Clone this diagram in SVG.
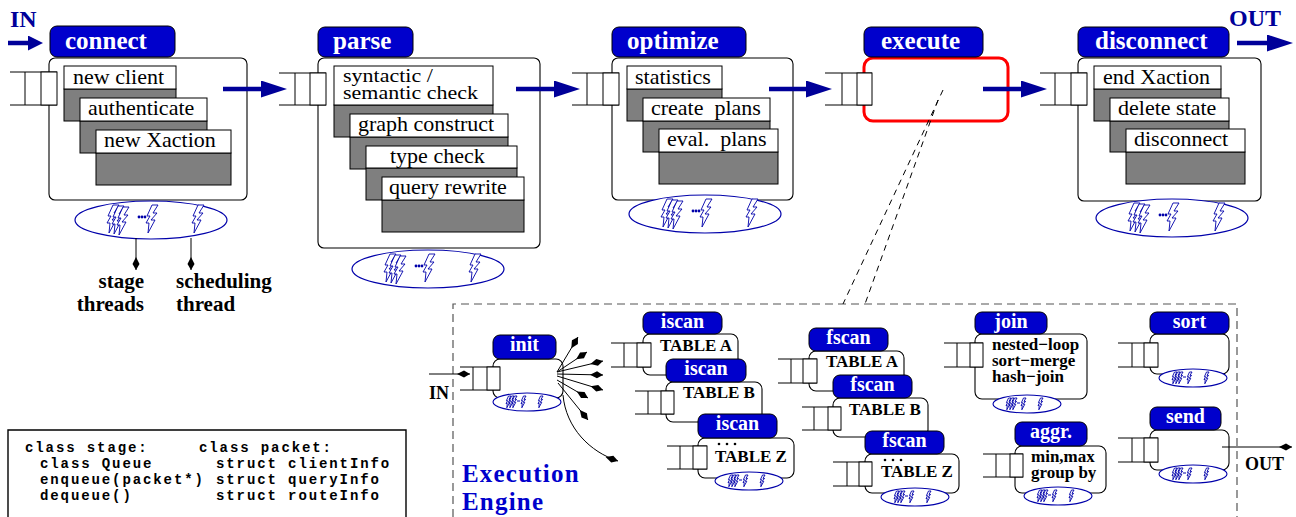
<svg xmlns="http://www.w3.org/2000/svg" xmlns:xlink="http://www.w3.org/1999/xlink" width="1296" height="517" viewBox="0 0 1296 517">
  <style>
    .body { fill: #fff; stroke: #000; stroke-width: 1.1; }
    .lblbox { fill: #0000cc; stroke: #000; stroke-width: 1; }
    .lbl { font-family: "Liberation Serif", serif; font-weight: bold; font-size: 25px; fill: #fff; }
    .elbl { font-family: "Liberation Serif", serif; font-weight: bold; font-size: 20px; fill: #fff; text-anchor: middle; }
    .task { font-family: "Liberation Serif", serif; font-size: 22px; fill: #000; }
    .etxt { font-family: "Liberation Serif", serif; font-weight: bold; font-size: 17px; fill: #000; }
    .white { fill: #fff; stroke: #000; stroke-width: 1; }
    .grey { fill: #7f7f7f; stroke: #000; stroke-width: 1; }
    .q { fill: none; stroke: #000; stroke-width: 1; }
    .qbox { fill: #fff; stroke: #000; stroke-width: 1; }
    .flow { fill: none; stroke: #000099; stroke-width: 4.5; }
    .thin { fill: none; stroke: #000; stroke-width: 1; }
    .io { font-family: "Liberation Serif", serif; font-weight: bold; font-size: 24px; fill: #000099; }
    .eio { font-family: "Liberation Serif", serif; font-weight: bold; font-size: 18px; fill: #000; }
    .note { font-family: "Liberation Serif", serif; font-weight: bold; font-size: 21px; fill: #000; }
    .code { font-family: "Liberation Mono", monospace; font-weight: bold; font-size: 14px; letter-spacing: 1.9px; fill: #000; }
    .title { font-family: "Liberation Serif", serif; font-weight: bold; font-size: 25px; letter-spacing: 1.2px; fill: #0000cc; }
    .frame { fill: none; stroke: #555; stroke-width: 1.2; stroke-dasharray: 8 5; }
    .zoomline { fill: none; stroke: #000; stroke-width: 1; stroke-dasharray: 6 5; }
    .dot { fill: #000; }
  </style>
  <defs>
    <marker id="bigHead" markerUnits="userSpaceOnUse" viewBox="0 0 26 17" markerWidth="26" markerHeight="17" refX="0" refY="8.5" orient="auto">
      <path d="M0,0 L26,8.5 L0,17 Z" fill="#000099"/>
    </marker>
    <marker id="smallHead" markerUnits="userSpaceOnUse" viewBox="0 0 15 15" markerWidth="15" markerHeight="15" refX="0" refY="7.5" orient="auto">
      <path d="M0,0 L15,7.5 L0,15 Z" fill="#000099"/>
    </marker>
    <marker id="kite" markerUnits="userSpaceOnUse" viewBox="-14 -5 15 10" markerWidth="15" markerHeight="10" refX="0" refY="0" orient="auto">
      <path d="M0,0 L-6,-3.5 L-13,0 L-6,3.5 Z" fill="#000"/>
    </marker>
    <!-- one thread glyph -->
    <path id="bolt" d="M6,0 L12,0 L7,8 L11,8 L5,15 L9,15 L2,28 L3,18 L0,18 L4,11 L1,11 Z" fill="#fff" stroke="#0000aa" stroke-width="0.9" vector-effect="non-scaling-stroke"/>
    <!-- thread pool of a stage -->
    <g id="pool">
      <ellipse cx="0" cy="0" rx="76" ry="19" fill="#fff" stroke="#0000aa" stroke-width="1.2"/>
      <use xlink:href="#bolt" x="-44" y="-15"/>
      <use xlink:href="#bolt" x="-39" y="-14"/>
      <use xlink:href="#bolt" x="-34" y="-13"/>
      <circle cx="-12" cy="-3" r="1.4" fill="#0000aa"/>
      <circle cx="-9" cy="-3" r="1.4" fill="#0000aa"/>
      <circle cx="-6" cy="-3" r="1.4" fill="#0000aa"/>
      <use xlink:href="#bolt" x="-5" y="-15"/>
      <use xlink:href="#bolt" x="41" y="-15"/>
    </g>
    <g id="poolSmall">
      <ellipse cx="0" cy="0" rx="34" ry="9" fill="#fff" stroke="#0000aa" stroke-width="1.1"/>
      <use xlink:href="#bolt" transform="translate(-21,-6) scale(0.42)"/>
      <use xlink:href="#bolt" transform="translate(-18,-6) scale(0.42)"/>
      <use xlink:href="#bolt" transform="translate(-15,-6) scale(0.42)"/>
      <line x1="-10" y1="-1" x2="-7" y2="-1" stroke="#0000aa" stroke-width="1"/>
      <use xlink:href="#bolt" transform="translate(-6,-6) scale(0.42)"/>
      <use xlink:href="#bolt" transform="translate(11,-6) scale(0.42)"/>
    </g>
    <!-- ellipsis marks above the last table -->
    <g id="dots">
      <circle class="dot" cx="0" cy="0" r="1.3"/>
      <circle class="dot" cx="8" cy="0" r="1.3"/>
      <circle class="dot" cx="16" cy="0" r="1.3"/>
    </g>
  </defs>

  <rect width="1296" height="517" fill="#fff"/>

  <!-- input / output of the pipeline -->
  <text class="io" x="10" y="27">IN</text>
  <text class="io" x="1229" y="26">OUT</text>

  <!-- stage: connect -->
  <g id="stage-connect">
    <rect class="body" x="49" y="58" width="198" height="142" rx="6"/>
    <rect class="lblbox" x="50" y="26" width="125" height="31" rx="7"/>
    <text class="lbl" x="65" y="49">connect</text>
    <rect class="grey" x="64" y="89" width="112" height="32"/>
    <rect class="white" x="64" y="66" width="112" height="23"/>
    <text class="task" x="73" y="84">new client</text>
    <rect class="grey" x="80" y="121" width="127" height="32"/>
    <rect class="white" x="80" y="98" width="127" height="23"/>
    <text class="task" x="88" y="115">authenticate</text>
    <rect class="grey" x="96" y="153" width="135" height="32"/>
    <rect class="white" x="96" y="130" width="135" height="23"/>
    <text class="task" x="104" y="147">new Xaction</text>
    <path class="q" d="M10,72 H57 M10,105 H57 M25,72 V105"/>
    <rect class="qbox" x="41" y="72" width="16" height="33"/>
    <use xlink:href="#pool" x="151" y="220"/>
  </g>

  <!-- stage: parse -->
  <g id="stage-parse">
    <rect class="body" x="318" y="58" width="222" height="190" rx="6"/>
    <rect class="lblbox" x="318" y="27" width="95" height="30" rx="7"/>
    <text class="lbl" x="333" y="49">parse</text>
    <rect class="grey" x="334" y="105" width="159" height="32"/>
    <rect class="white" x="334" y="66" width="159" height="39"/>
    <text class="task" x="343" y="82" transform="translate(343 82) scale(1 0.85) translate(-343 -82)">syntactic /</text>
    <text class="task" x="343" y="99" transform="translate(343 99) scale(1 0.85) translate(-343 -99)">semantic check</text>
    <rect class="grey" x="350" y="137" width="158" height="32"/>
    <rect class="white" x="350" y="114" width="158" height="23"/>
    <text class="task" x="358" y="131">graph construct</text>
    <rect class="grey" x="366" y="168" width="151" height="32"/>
    <rect class="white" x="366" y="146" width="151" height="22"/>
    <text class="task" x="390" y="163">type check</text>
    <rect class="grey" x="382" y="200" width="142" height="32"/>
    <rect class="white" x="382" y="177" width="142" height="23"/>
    <text class="task" x="389" y="194">query rewrite</text>
    <path class="q" d="M279,73 H326 M279,105 H326 M295,73 V105"/>
    <rect class="qbox" x="310" y="73" width="16" height="32"/>
    <use xlink:href="#pool" x="428" y="269"/>
  </g>

  <!-- stage: optimize -->
  <g id="stage-optimize">
    <rect class="body" x="612" y="58" width="181" height="142" rx="6"/>
    <rect class="lblbox" x="612" y="27" width="134" height="30" rx="7"/>
    <text class="lbl" x="627" y="49">optimize</text>
    <rect class="grey" x="627" y="89" width="95" height="32"/>
    <rect class="white" x="627" y="66" width="95" height="23"/>
    <text class="task" x="635" y="84">statistics</text>
    <rect class="grey" x="643" y="121" width="127" height="31"/>
    <rect class="white" x="643" y="98" width="127" height="23"/>
    <text class="task" x="651" y="115" xml:space="preserve">create  plans</text>
    <rect class="grey" x="659" y="152" width="119" height="32"/>
    <rect class="white" x="659" y="129" width="119" height="23"/>
    <text class="task" x="667" y="146" xml:space="preserve">eval.  plans</text>
    <path class="q" d="M572,73 H619 M572,105 H619 M587,73 V105"/>
    <rect class="qbox" x="603" y="73" width="16" height="32"/>
    <use xlink:href="#pool" x="705" y="214"/>
  </g>

  <!-- stage: execute (expanded below) -->
  <g id="stage-execute">
    <rect x="864" y="58" width="144" height="63" rx="9" fill="#fff" stroke="#ff0000" stroke-width="3"/>
    <rect class="lblbox" x="864" y="27" width="119" height="30" rx="7"/>
    <text class="lbl" x="881" y="49">execute</text>
    <path class="q" d="M825,73 H872 M825,105 H872 M842,73 V105"/>
    <rect class="qbox" x="857" y="73" width="15" height="32"/>
  </g>

  <!-- stage: disconnect -->
  <g id="stage-disconnect">
    <rect class="body" x="1078" y="58" width="183" height="143" rx="6"/>
    <rect class="lblbox" x="1078" y="27" width="151" height="30" rx="7"/>
    <text class="lbl" x="1095" y="49">disconnect</text>
    <rect class="grey" x="1094" y="89" width="127" height="32"/>
    <rect class="white" x="1094" y="66" width="127" height="23"/>
    <text class="task" x="1103" y="84">end Xaction</text>
    <rect class="grey" x="1110" y="121" width="119" height="31"/>
    <rect class="white" x="1110" y="98" width="119" height="23"/>
    <text class="task" x="1118" y="115">delete state</text>
    <rect class="grey" x="1126" y="152" width="119" height="32"/>
    <rect class="white" x="1126" y="129" width="119" height="23"/>
    <text class="task" x="1134" y="146">disconnect</text>
    <path class="q" d="M1040,73 H1087 M1040,105 H1087 M1055,73 V105"/>
    <rect class="qbox" x="1071" y="73" width="16" height="32"/>
    <use xlink:href="#pool" x="1172" y="218"/>
  </g>

  <!-- thread annotations -->
  <g id="thread-notes">
    <text class="note" x="144" y="288" text-anchor="end">stage</text>
    <text class="note" x="144" y="311" text-anchor="end">threads</text>
    <text class="note" x="176" y="288">scheduling</text>
    <text class="note" x="176" y="311">thread</text>
  </g>

  <!-- execution engine frame -->
  <path class="frame" d="M453,517 V304 H1237 V517"/>
  <text class="title" x="462" y="482">Execution</text>
  <text class="title" x="462" y="510">Engine</text>

  <!-- engine operators -->
  <g id="op-init">
    <rect class="body" x="493" y="359" width="70" height="39" rx="7"/>
    <rect class="lblbox" x="493" y="335" width="63" height="24" rx="7"/>
    <text class="elbl" x="524.5" y="351">init</text>
    <path class="q" d="M460,367 H500 M460,390 H500 M473,367 V390"/>
    <rect class="qbox" x="487" y="367" width="13" height="23"/>
    <use xlink:href="#poolSmall" x="527" y="402"/>
  </g>

  <g id="op-iscan-a">
    <rect class="body" x="643" y="334" width="95" height="41" rx="7"/>
    <rect class="lblbox" x="643" y="312" width="79" height="22" rx="7"/>
    <text class="elbl" x="682.5" y="328">iscan</text>
    <text class="etxt" x="660" y="351">TABLE A</text>
    <path class="q" d="M611,343 H651 M611,367 H651 M624,343 V367"/>
    <rect class="qbox" x="637" y="343" width="14" height="24"/>
  </g>
  <g id="op-iscan-b">
    <rect class="body" x="666" y="382" width="96" height="40" rx="7"/>
    <rect class="lblbox" x="666" y="359" width="80" height="23" rx="7"/>
    <text class="elbl" x="706" y="375">iscan</text>
    <text class="etxt" x="683" y="398">TABLE B</text>
    <path class="q" d="M635,391 H674 M635,414 H674 M648,391 V414"/>
    <rect class="qbox" x="661" y="391" width="13" height="23"/>
  </g>
  <g id="op-iscan-z">
    <rect class="body" x="698" y="438" width="96" height="40" rx="7"/>
    <rect class="lblbox" x="698" y="414" width="79" height="24" rx="7"/>
    <text class="elbl" x="737.5" y="430">iscan</text>
    <use xlink:href="#dots" x="719" y="444"/>
    <text class="etxt" x="715" y="462">TABLE Z</text>
    <path class="q" d="M667,446 H707 M667,469 H707 M680,446 V469"/>
    <rect class="qbox" x="693" y="446" width="14" height="23"/>
    <use xlink:href="#poolSmall" x="749" y="481"/>
  </g>

  <g id="op-fscan-a">
    <rect class="body" x="809" y="351" width="95" height="40" rx="7"/>
    <rect class="lblbox" x="809" y="328" width="79" height="23" rx="7"/>
    <text class="elbl" x="848.5" y="344">fscan</text>
    <text class="etxt" x="826" y="367">TABLE A</text>
    <path class="q" d="M778,359 H817 M778,383 H817 M791,359 V383"/>
    <rect class="qbox" x="803" y="359" width="14" height="24"/>
  </g>
  <g id="op-fscan-b">
    <rect class="body" x="833" y="398" width="95" height="39" rx="7"/>
    <rect class="lblbox" x="833" y="375" width="79" height="23" rx="7"/>
    <text class="elbl" x="872.5" y="391">fscan</text>
    <text class="etxt" x="849" y="415">TABLE B</text>
    <path class="q" d="M802,407 H841 M802,430 H841 M814,407 V430"/>
    <rect class="qbox" x="828" y="407" width="13" height="23"/>
  </g>
  <g id="op-fscan-z">
    <rect class="body" x="865" y="454" width="94" height="39" rx="7"/>
    <rect class="lblbox" x="865" y="431" width="79" height="23" rx="7"/>
    <text class="elbl" x="904.5" y="447">fscan</text>
    <use xlink:href="#dots" x="885" y="460"/>
    <text class="etxt" x="881" y="477">TABLE Z</text>
    <path class="q" d="M833,462 H872 M833,486 H872 M847,462 V486"/>
    <rect class="qbox" x="859" y="462" width="13" height="24"/>
    <use xlink:href="#poolSmall" x="915" y="497"/>
  </g>

  <g id="op-join">
    <rect class="body" x="975" y="334" width="112" height="65" rx="7"/>
    <rect class="lblbox" x="975" y="312" width="72" height="22" rx="7"/>
    <text class="elbl" x="1011" y="328">join</text>
    <text class="etxt" x="992" y="350">nested−loop</text>
    <text class="etxt" x="992" y="366">sort−merge</text>
    <text class="etxt" x="992" y="382">hash−join</text>
    <path class="q" d="M944,343 H983 M944,367 H983 M957,343 V367"/>
    <rect class="qbox" x="970" y="343" width="13" height="24"/>
    <use xlink:href="#poolSmall" x="1027" y="404"/>
  </g>

  <g id="op-sort">
    <rect class="body" x="1150" y="334" width="79" height="40" rx="7"/>
    <rect class="lblbox" x="1150" y="312" width="79" height="22" rx="7"/>
    <text class="elbl" x="1189.5" y="328">sort</text>
    <path class="q" d="M1118,343 H1158 M1118,367 H1158 M1132,343 V367"/>
    <rect class="qbox" x="1144" y="343" width="14" height="24"/>
    <use xlink:href="#poolSmall" x="1193" y="378"/>
  </g>

  <g id="op-aggr">
    <rect class="body" x="1015" y="446" width="91" height="47" rx="7"/>
    <rect class="lblbox" x="1015" y="422" width="72" height="24" rx="7"/>
    <text class="elbl" x="1051" y="438">aggr.</text>
    <text class="etxt" x="1031" y="462">min,max</text>
    <text class="etxt" x="1031" y="478">group by</text>
    <path class="q" d="M983,454 H1023 M983,477 H1023 M996,454 V477"/>
    <rect class="qbox" x="1010" y="454" width="13" height="23"/>
    <use xlink:href="#poolSmall" x="1058" y="496"/>
  </g>

  <g id="op-send">
    <rect class="body" x="1150" y="430" width="79" height="40" rx="7"/>
    <rect class="lblbox" x="1150" y="407" width="71" height="23" rx="7"/>
    <text class="elbl" x="1185.5" y="423">send</text>
    <path class="q" d="M1118,438 H1158 M1118,462 H1158 M1132,438 V462"/>
    <rect class="qbox" x="1144" y="438" width="14" height="24"/>
    <use xlink:href="#poolSmall" x="1193" y="474"/>
  </g>

  <text class="eio" x="429" y="399">IN</text>
  <text class="eio" x="1245" y="470">OUT</text>

  <!-- connectors -->
  <g id="connectors">
    <line class="flow" x1="8" y1="43" x2="28" y2="43" marker-end="url(#smallHead)"/>
    <line class="flow" x1="223" y1="89" x2="261" y2="89" marker-end="url(#bigHead)"/>
    <line class="flow" x1="516" y1="89" x2="554" y2="89" marker-end="url(#bigHead)"/>
    <line class="flow" x1="769" y1="89" x2="806" y2="89" marker-end="url(#bigHead)"/>
    <line class="flow" x1="983" y1="89" x2="1021" y2="89" marker-end="url(#bigHead)"/>
    <line class="flow" x1="1237" y1="43" x2="1267" y2="43" marker-end="url(#bigHead)"/>

    <line class="thin" x1="136" y1="238" x2="136" y2="270" marker-end="url(#kite)"/>
    <line class="thin" x1="191" y1="238" x2="191" y2="270" marker-end="url(#kite)"/>

    <line class="zoomline" x1="943" y1="90" x2="843" y2="304"/>
    <line class="zoomline" x1="938" y1="100" x2="865" y2="304"/>

    <line class="thin" x1="429" y1="374" x2="470" y2="374" marker-end="url(#kite)"/>
    <line class="thin" x1="557" y1="372" x2="578" y2="337" marker-end="url(#kite)"/>
    <line class="thin" x1="557" y1="372" x2="587" y2="352" marker-end="url(#kite)"/>
    <line class="thin" x1="557" y1="372" x2="603" y2="361" marker-end="url(#kite)"/>
    <line class="thin" x1="557" y1="374" x2="603" y2="375" marker-end="url(#kite)"/>
    <line class="thin" x1="557" y1="376" x2="603" y2="390" marker-end="url(#kite)"/>
    <line class="thin" x1="557" y1="380" x2="588" y2="398" marker-end="url(#kite)"/>
    <line class="thin" x1="558" y1="383" x2="588" y2="420" marker-end="url(#kite)"/>
    <path class="thin" d="M563,395 C566,428 590,452 618,461" marker-end="url(#kite)"/>
    <line class="thin" x1="1222" y1="447" x2="1292" y2="447" marker-end="url(#kite)"/>
  </g>

  <!-- class summary -->
  <g id="code-box">
    <path d="M8,517 V430 H406 V517" fill="#fff" stroke="#000" stroke-width="1.4"/>
    <text class="code" x="25" y="452">class stage:</text>
    <text class="code" x="199" y="452">class packet:</text>
    <text class="code" x="40" y="468">class Queue</text>
    <text class="code" x="216" y="468">struct clientInfo</text>
    <text class="code" x="40" y="484">enqueue(packet*)</text>
    <text class="code" x="216" y="484">struct queryInfo</text>
    <text class="code" x="40" y="500">dequeue()</text>
    <text class="code" x="216" y="500">struct routeInfo</text>
  </g>
</svg>
